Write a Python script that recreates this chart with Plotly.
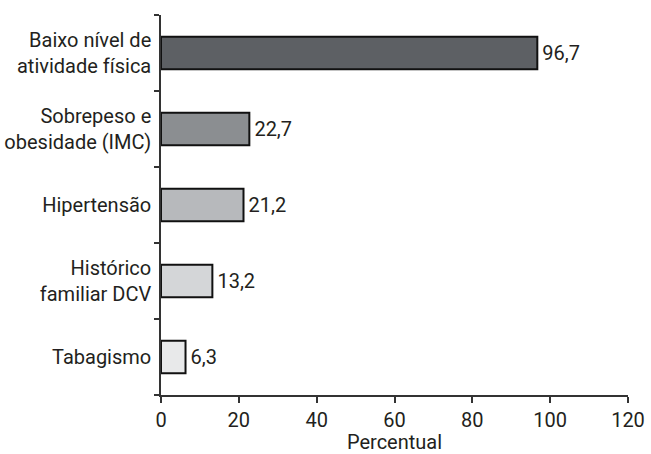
import plotly.graph_objects as go

categories = ["Baixo nível de<br>atividade física", "Sobrepeso e<br>obesidade (IMC)",
              "Hipertensão", "Histórico<br>familiar DCV", "Tabagismo"]
values = [96.7, 22.7, 21.2, 13.2, 6.3]
colors = ["#5d6064", "#8b8e91", "#b7b9bc", "#d4d6d8", "#e8e9ea"]
x_ticks = [0, 20, 40, 60, 80, 100, 120]

FONT = "Roboto, Liberation Sans Narrow, sans-serif"
TXT = "#231f20"

fig = go.Figure(go.Bar(
    y=categories, x=values, orientation="h",
    marker=dict(color=colors, line=dict(color="#111111", width=2)),
    text=values, texttemplate="\u200a%{x:.1f}", textposition="outside",
    textfont=dict(family=FONT, size=20, color=TXT),
    cliponaxis=False, width=0.43,
))

fig.update_layout(
    width=651, height=454,
    margin=dict(l=161, r=23, t=15, b=59),
    paper_bgcolor="white", plot_bgcolor="white",
    separators=",.",
    font=dict(family=FONT, size=20, color=TXT),
    showlegend=False,
    xaxis=dict(range=[0, 120], tickvals=x_ticks, showgrid=False, zeroline=False,
               showline=True, linecolor="#333333", linewidth=1.5, automargin=False,
               ticks="outside", ticklen=6, tickcolor="#333333", tickwidth=1.5,
               title=dict(text="Percentual", standoff=0, font=dict(size=20)),
               tickfont=dict(size=20)),
    yaxis=dict(categoryorder="array", categoryarray=categories[::-1],
               autorange=False, range=[-0.5, 4.5], automargin=False,
               showgrid=False, zeroline=False,
               showline=True, linecolor="#333333", linewidth=1.5,
               ticks="outside", tickson="boundaries", ticklen=5,
               tickcolor="#333333", tickwidth=1.5, ticklabelstandoff=4,
               tickfont=dict(size=20)),
)

fig.write_html("out.html")
